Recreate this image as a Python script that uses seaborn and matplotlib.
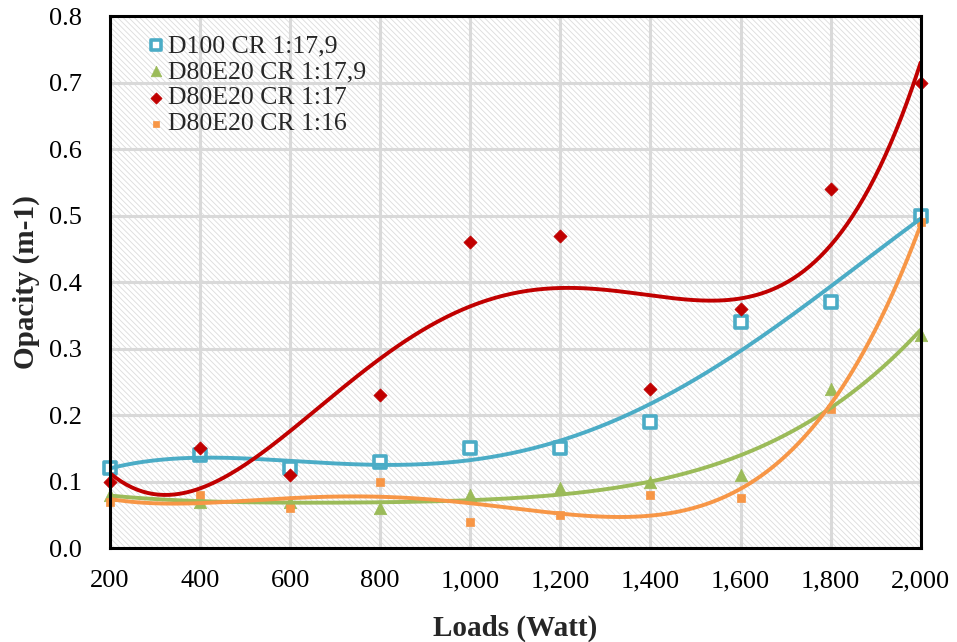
import numpy as np
import pandas as pd
import matplotlib
matplotlib.use("Agg")
import matplotlib.pyplot as plt
import seaborn as sns
from matplotlib.patches import Rectangle
from matplotlib.ticker import FuncFormatter

# Engine load steps (Watt)
loads = [200, 400, 600, 800, 1000, 1200, 1400, 1600, 1800, 2000]

# Smoke opacity (m-1) per fuel / compression ratio
d100_cr179 = [0.12, 0.14, 0.12, 0.13, 0.15, 0.15, 0.19, 0.34, 0.37, 0.50]
d80e20_cr179 = [0.08, 0.07, 0.07, 0.06, 0.08, 0.09, 0.10, 0.11, 0.24, 0.32]
d80e20_cr17 = [0.10, 0.15, 0.11, 0.23, 0.46, 0.47, 0.24, 0.36, 0.54, 0.70]
d80e20_cr16 = [0.07, 0.08, 0.06, 0.10, 0.04, 0.05, 0.08, 0.075, 0.21, 0.49]

series_names = ["D100 CR 1:17,9", "D80E20 CR 1:17,9", "D80E20 CR 1:17", "D80E20 CR 1:16"]
series_values = [d100_cr179, d80e20_cr179, d80e20_cr17, d80e20_cr16]
colors = ["#4bacc6", "#9bbb59", "#c00000", "#f79646"]
markers = ["s", "^", "D", "s"]
marker_sizes = [70, 80, 45, 35]

sns.set_theme(style="white")
plt.rcParams["font.family"] = ["Liberation Serif", "DejaVu Serif"]
plt.rcParams["hatch.linewidth"] = 0.6

fig = plt.figure(figsize=(9.57, 6.42), dpi=100)
ax = fig.add_axes([0.115, 0.146, 0.847, 0.829])

# hatched plot-area fill
ax.add_patch(Rectangle((0, 0), 1, 1, transform=ax.transAxes, facecolor="white",
                       edgecolor="#dcdcdc", hatch="\\\\\\\\\\\\", linewidth=0, zorder=0))

ax.set_xlim(200, 2000)
ax.set_ylim(0, 0.8)
ax.set_xticks(loads)
ax.set_yticks(np.arange(0, 0.81, 0.1))
ax.grid(True, color="#d9d9d9", linewidth=2.2, zorder=1)
ax.set_axisbelow(True)

for name, vals, c, m, s in zip(series_names, series_values, colors, markers, marker_sizes):
    df = pd.DataFrame({"Load": loads, "Opacity": vals})
    if name == "D100 CR 1:17,9":
        sns.scatterplot(data=df, x="Load", y="Opacity", marker=m, s=s, facecolor="white",
                        edgecolor=c, linewidth=2.6, ax=ax, zorder=3, label=name, clip_on=False)
    else:
        sns.scatterplot(data=df, x="Load", y="Opacity", marker=m, s=s, color=c,
                        edgecolor=c, linewidth=0.5, ax=ax, zorder=3, label=name, clip_on=False)
    # 4th-order polynomial trendline through the measurements
    coef = np.polyfit(df["Load"], df["Opacity"], 4)
    xs = np.linspace(200, 2000, 300)
    trend = pd.DataFrame({"Load": xs, "Opacity": np.polyval(coef, xs)})
    sns.lineplot(data=trend, x="Load", y="Opacity", color=c, linewidth=2.8, ax=ax,
                 zorder=4, legend=False)

ax.xaxis.set_major_formatter(FuncFormatter(lambda v, p: f"{int(v):,}"))
ax.yaxis.set_major_formatter(FuncFormatter(lambda v, p: f"{v:.1f}"))
ax.tick_params(axis="both", labelsize=19, length=0, labelcolor="black")
ax.tick_params(axis="x", pad=16)
ax.tick_params(axis="y", pad=20)

ax.set_xlabel("Loads (Watt)", fontsize=21, fontweight="bold", labelpad=16)
ax.set_ylabel("Opacity (m-1)", fontsize=21, fontweight="bold", labelpad=7)

for side in ["top", "right", "left", "bottom"]:
    ax.spines[side].set_visible(True)
    ax.spines[side].set_color("black")
    ax.spines[side].set_linewidth(2.2)
    ax.spines[side].set_zorder(5)

leg = ax.legend(loc="upper left", bbox_to_anchor=(0.024, 0.995), frameon=False,
                fontsize=18.5, handletextpad=0.0, labelspacing=0.12, borderaxespad=0.2,
                handlelength=0.9, markerscale=0.85)

fig.savefig("out.png", dpi=100)
